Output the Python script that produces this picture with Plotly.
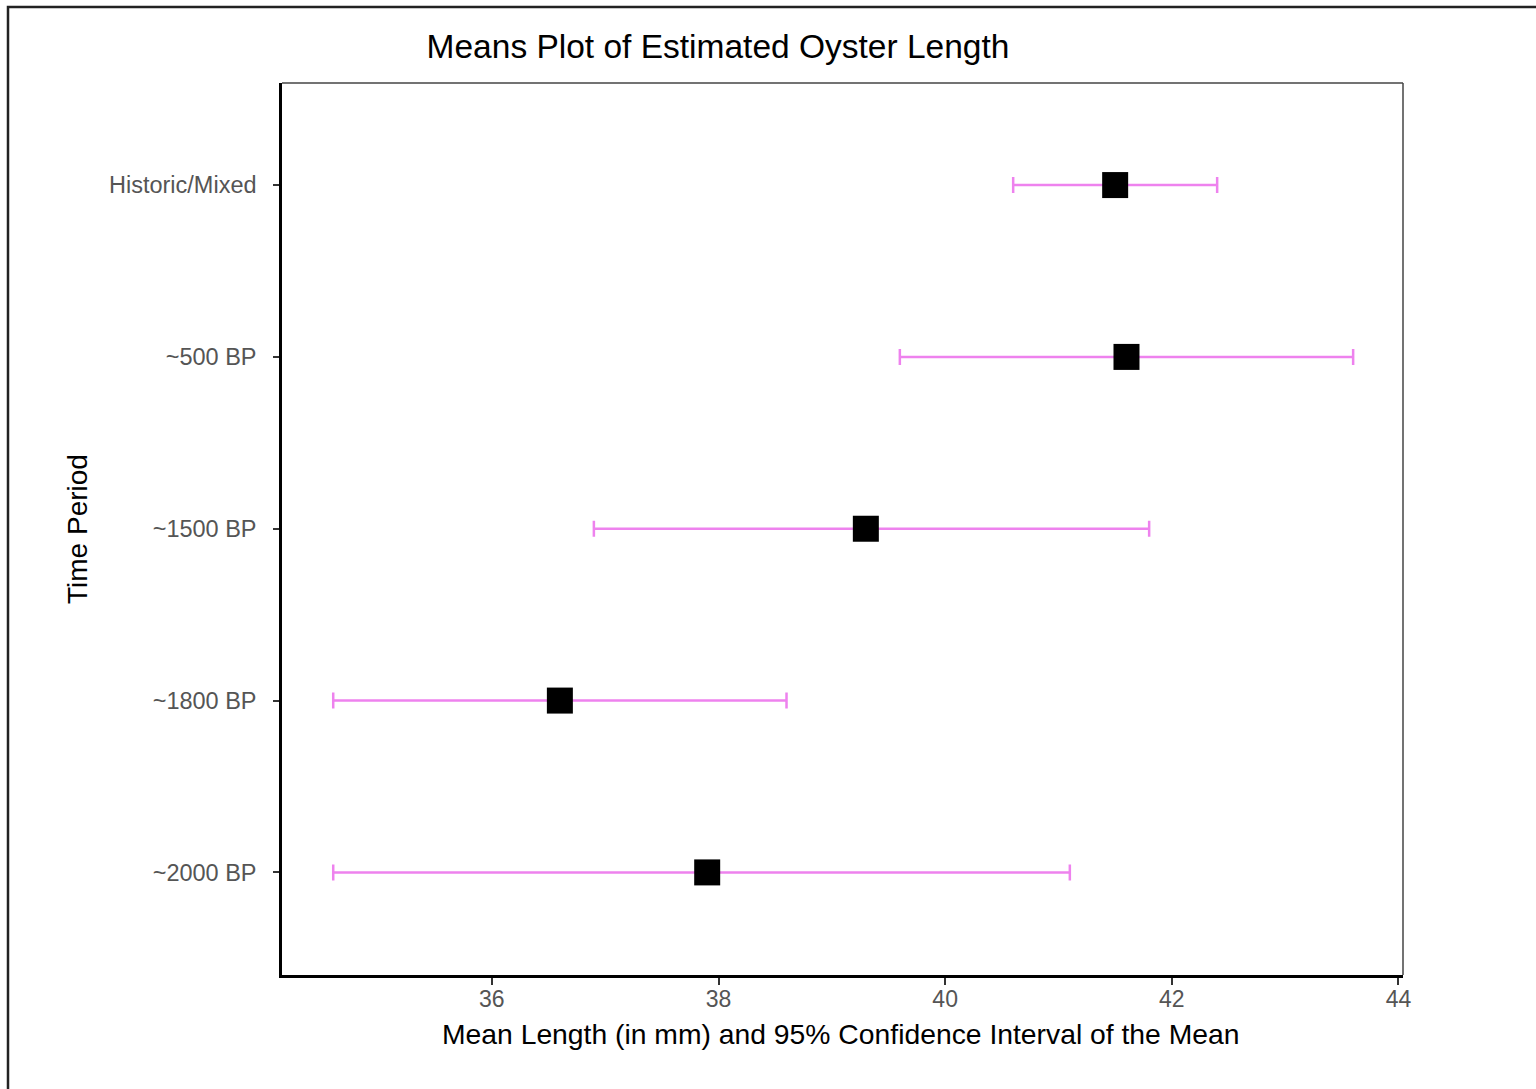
import plotly.graph_objects as go

# Time periods, bottom to top on the category axis
periods = ["~2000 BP", "~1800 BP", "~1500 BP", "~500 BP", "Historic/Mixed"]
# Mean estimated oyster length (mm) and 95% confidence limits
mean_length = [37.9, 36.6, 39.3, 41.6, 41.5]
ci_lower = [34.6, 34.6, 36.9, 39.6, 40.6]
ci_upper = [41.1, 38.6, 41.8, 43.6, 42.4]
x_ticks = [36, 38, 40, 42, 44]

err_plus = [u - m for u, m in zip(ci_upper, mean_length)]
err_minus = [m - l for m, l in zip(mean_length, ci_lower)]

FONT = "Liberation Sans, Arial, Helvetica, sans-serif"
W, H = 1536, 1089
L, R, T, B = 282, 133, 83, 114
PW, PH = W - L - R, H - T - B


def px_x(p):
    return (p - L) / PW


def px_y(p):
    return (H - B - p) / PH


fig = go.Figure()
fig.add_trace(go.Scatter(
    x=mean_length,
    y=periods,
    mode="markers",
    marker=dict(symbol="square", size=26, color="black", line=dict(width=0)),
    error_x=dict(type="data", symmetric=False, array=err_plus, arrayminus=err_minus,
                 color="#EE82EE", thickness=2.5, width=8),
    showlegend=False,
    hoverinfo="x+y",
))

fig.update_layout(
    width=W, height=H,
    margin=dict(l=L, r=R, t=T, b=B),
    paper_bgcolor="white",
    plot_bgcolor="white",
    font=dict(family=FONT, color="black"),
    title=dict(text="Means Plot of Estimated Oyster Length",
               font=dict(size=33.5, color="black", family=FONT),
               x=718 / W, xanchor="center", xref="container",
               y=1 - 46 / H, yanchor="middle", yref="container"),
    xaxis=dict(range=[34.148, 44.04], tickvals=x_ticks,
               showgrid=False, zeroline=False,
               showline=True, linecolor="black", linewidth=2.5, mirror=False,
               ticks="outside", ticklen=7, tickwidth=2, tickcolor="#333333",
               ticklabelstandoff=-5,
               tickfont=dict(size=23, color="#555555", family=FONT)),
    yaxis=dict(type="category", categoryorder="array", categoryarray=periods,
               range=[-0.597, 4.594],
               showgrid=False, zeroline=False,
               showline=True, linecolor="black", linewidth=2.5, mirror=False,
               ticks="outside", ticklen=6, tickwidth=2, tickcolor="#333333",
               ticklabelstandoff=12,
               tickfont=dict(size=23.5, color="#555555", family=FONT)),
    annotations=[
        dict(text="Mean Length (in mm) and 95% Confidence Interval of the Mean",
             xref="paper", yref="paper", x=px_x(840), y=px_y(1034),
             xanchor="center", yanchor="middle", showarrow=False,
             font=dict(size=28.3, color="black", family=FONT)),
        dict(text="Time Period",
             xref="paper", yref="paper", x=px_x(77), y=0.5,
             xanchor="center", yanchor="middle", textangle=-90, showarrow=False,
             font=dict(size=28, color="black", family=FONT)),
    ],
    shapes=[
        # thin top and right edges of the panel
        dict(type="line", xref="paper", yref="paper", x0=0, x1=1, y0=1, y1=1,
             line=dict(color="#444444", width=1.5)),
        dict(type="line", xref="paper", yref="paper", x0=1, x1=1, y0=0, y1=1,
             line=dict(color="#444444", width=1.5)),
        # outer frame around the whole figure
        dict(type="rect", xref="paper", yref="paper",
             x0=px_x(8), x1=px_x(1550), y0=px_y(1100), y1=px_y(7),
             line=dict(color="#222222", width=2.5), layer="above"),
    ],
)

fig.write_html("out.html")
